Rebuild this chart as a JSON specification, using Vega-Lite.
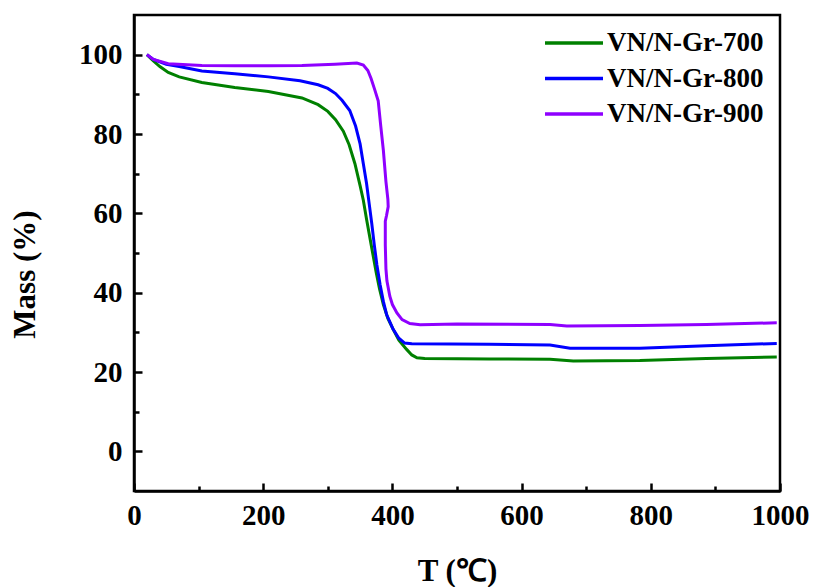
{
  "$schema": "https://vega.github.io/schema/vega-lite/v6.json",
  "width": 646,
  "height": 476,
  "autosize": {"type": "none"},
  "padding": {"left": 134, "top": 15, "right": 36, "bottom": 96},
  "background": "white",
  "config": {
    "font": "Liberation Serif",
    "view": {"stroke": "black", "strokeWidth": 2.5},
    "axis": {"grid": false, "domainColor": "black", "domainWidth": 2.5, "tickColor": "black", "tickWidth": 2.5, "tickSize": -8,
             "labelFont": "Liberation Serif", "labelFontWeight": "bold", "labelFontSize": 29, "labelColor": "black",
             "titleFont": "Liberation Serif", "titleFontWeight": "bold", "titleFontSize": 31, "titleColor": "black"}
  },
  "data": {"values": [
    {"s":"VN/N-Gr-700","i":1,"T":20,"M":100},
    {"s":"VN/N-Gr-700","i":2,"T":30,"M":98.4},
    {"s":"VN/N-Gr-700","i":3,"T":40,"M":97.0},
    {"s":"VN/N-Gr-700","i":4,"T":53,"M":95.5},
    {"s":"VN/N-Gr-700","i":5,"T":70,"M":94.4},
    {"s":"VN/N-Gr-700","i":6,"T":105,"M":93.0},
    {"s":"VN/N-Gr-700","i":7,"T":156,"M":91.7},
    {"s":"VN/N-Gr-700","i":8,"T":208,"M":90.7},
    {"s":"VN/N-Gr-700","i":9,"T":260,"M":89.1},
    {"s":"VN/N-Gr-700","i":10,"T":285,"M":87.4},
    {"s":"VN/N-Gr-700","i":11,"T":300,"M":85.7},
    {"s":"VN/N-Gr-700","i":12,"T":312,"M":83.6},
    {"s":"VN/N-Gr-700","i":13,"T":324,"M":80.7},
    {"s":"VN/N-Gr-700","i":14,"T":333,"M":77.3},
    {"s":"VN/N-Gr-700","i":15,"T":342,"M":72.5},
    {"s":"VN/N-Gr-700","i":16,"T":350,"M":67.0},
    {"s":"VN/N-Gr-700","i":17,"T":355,"M":63.3},
    {"s":"VN/N-Gr-700","i":18,"T":360,"M":58.5},
    {"s":"VN/N-Gr-700","i":19,"T":365,"M":54.0},
    {"s":"VN/N-Gr-700","i":20,"T":370,"M":49.5},
    {"s":"VN/N-Gr-700","i":21,"T":375,"M":45.0},
    {"s":"VN/N-Gr-700","i":22,"T":380,"M":41.0},
    {"s":"VN/N-Gr-700","i":23,"T":386,"M":37.0},
    {"s":"VN/N-Gr-700","i":24,"T":393,"M":33.5},
    {"s":"VN/N-Gr-700","i":25,"T":401,"M":30.8},
    {"s":"VN/N-Gr-700","i":26,"T":410,"M":28.0},
    {"s":"VN/N-Gr-700","i":27,"T":422,"M":25.7},
    {"s":"VN/N-Gr-700","i":28,"T":430,"M":24.3},
    {"s":"VN/N-Gr-700","i":29,"T":438,"M":23.6},
    {"s":"VN/N-Gr-700","i":30,"T":450,"M":23.4},
    {"s":"VN/N-Gr-700","i":31,"T":550,"M":23.3},
    {"s":"VN/N-Gr-700","i":32,"T":644,"M":23.2},
    {"s":"VN/N-Gr-700","i":33,"T":680,"M":22.8},
    {"s":"VN/N-Gr-700","i":34,"T":783,"M":22.9},
    {"s":"VN/N-Gr-700","i":35,"T":886,"M":23.4},
    {"s":"VN/N-Gr-700","i":36,"T":995,"M":23.8},

    {"s":"VN/N-Gr-800","i":1,"T":20,"M":100},
    {"s":"VN/N-Gr-800","i":2,"T":30,"M":98.8},
    {"s":"VN/N-Gr-800","i":3,"T":50,"M":97.6},
    {"s":"VN/N-Gr-800","i":4,"T":70,"M":97.0},
    {"s":"VN/N-Gr-800","i":5,"T":105,"M":95.9},
    {"s":"VN/N-Gr-800","i":6,"T":156,"M":95.2},
    {"s":"VN/N-Gr-800","i":7,"T":208,"M":94.4},
    {"s":"VN/N-Gr-800","i":8,"T":257,"M":93.4},
    {"s":"VN/N-Gr-800","i":9,"T":285,"M":92.4},
    {"s":"VN/N-Gr-800","i":10,"T":300,"M":91.5},
    {"s":"VN/N-Gr-800","i":11,"T":312,"M":90.2},
    {"s":"VN/N-Gr-800","i":12,"T":322,"M":88.5},
    {"s":"VN/N-Gr-800","i":13,"T":334,"M":85.9},
    {"s":"VN/N-Gr-800","i":14,"T":343,"M":82.0},
    {"s":"VN/N-Gr-800","i":15,"T":350,"M":77.5},
    {"s":"VN/N-Gr-800","i":16,"T":355,"M":72.5},
    {"s":"VN/N-Gr-800","i":17,"T":360,"M":67.5},
    {"s":"VN/N-Gr-800","i":18,"T":364,"M":62.5},
    {"s":"VN/N-Gr-800","i":19,"T":368,"M":57.5},
    {"s":"VN/N-Gr-800","i":20,"T":372,"M":52.0},
    {"s":"VN/N-Gr-800","i":21,"T":376,"M":47.0},
    {"s":"VN/N-Gr-800","i":22,"T":381,"M":42.0},
    {"s":"VN/N-Gr-800","i":23,"T":386,"M":37.8},
    {"s":"VN/N-Gr-800","i":24,"T":391,"M":34.5},
    {"s":"VN/N-Gr-800","i":25,"T":401,"M":30.8},
    {"s":"VN/N-Gr-800","i":26,"T":410,"M":28.5},
    {"s":"VN/N-Gr-800","i":27,"T":419,"M":27.3},
    {"s":"VN/N-Gr-800","i":28,"T":430,"M":27.1},
    {"s":"VN/N-Gr-800","i":29,"T":550,"M":27.0},
    {"s":"VN/N-Gr-800","i":30,"T":644,"M":26.8},
    {"s":"VN/N-Gr-800","i":31,"T":675,"M":26.0},
    {"s":"VN/N-Gr-800","i":32,"T":783,"M":26.0},
    {"s":"VN/N-Gr-800","i":33,"T":886,"M":26.6},
    {"s":"VN/N-Gr-800","i":34,"T":995,"M":27.2},

    {"s":"VN/N-Gr-900","i":1,"T":20,"M":100},
    {"s":"VN/N-Gr-900","i":2,"T":30,"M":98.8},
    {"s":"VN/N-Gr-900","i":3,"T":53,"M":97.7},
    {"s":"VN/N-Gr-900","i":4,"T":105,"M":97.3},
    {"s":"VN/N-Gr-900","i":5,"T":156,"M":97.2},
    {"s":"VN/N-Gr-900","i":6,"T":208,"M":97.2},
    {"s":"VN/N-Gr-900","i":7,"T":260,"M":97.3},
    {"s":"VN/N-Gr-900","i":8,"T":311,"M":97.6},
    {"s":"VN/N-Gr-900","i":9,"T":345,"M":97.9},
    {"s":"VN/N-Gr-900","i":10,"T":355,"M":97.4},
    {"s":"VN/N-Gr-900","i":11,"T":362,"M":96.0},
    {"s":"VN/N-Gr-900","i":12,"T":367,"M":94.0},
    {"s":"VN/N-Gr-900","i":13,"T":372,"M":91.5},
    {"s":"VN/N-Gr-900","i":14,"T":378,"M":88.4},
    {"s":"VN/N-Gr-900","i":15,"T":382,"M":82.0},
    {"s":"VN/N-Gr-900","i":16,"T":386,"M":75.9},
    {"s":"VN/N-Gr-900","i":17,"T":390,"M":68.0},
    {"s":"VN/N-Gr-900","i":18,"T":393,"M":63.5},
    {"s":"VN/N-Gr-900","i":19,"T":393.5,"M":61.7},
    {"s":"VN/N-Gr-900","i":20,"T":391,"M":59.5},
    {"s":"VN/N-Gr-900","i":21,"T":389,"M":58.0},
    {"s":"VN/N-Gr-900","i":22,"T":389,"M":52.0},
    {"s":"VN/N-Gr-900","i":23,"T":390,"M":46.0},
    {"s":"VN/N-Gr-900","i":24,"T":391.5,"M":43.0},
    {"s":"VN/N-Gr-900","i":25,"T":396,"M":39.1},
    {"s":"VN/N-Gr-900","i":26,"T":400,"M":37.0},
    {"s":"VN/N-Gr-900","i":27,"T":407,"M":34.9},
    {"s":"VN/N-Gr-900","i":28,"T":415,"M":33.2},
    {"s":"VN/N-Gr-900","i":29,"T":427,"M":32.2},
    {"s":"VN/N-Gr-900","i":30,"T":443,"M":31.9},
    {"s":"VN/N-Gr-900","i":31,"T":500,"M":32.1},
    {"s":"VN/N-Gr-900","i":32,"T":644,"M":32.0},
    {"s":"VN/N-Gr-900","i":33,"T":670,"M":31.6},
    {"s":"VN/N-Gr-900","i":34,"T":783,"M":31.7},
    {"s":"VN/N-Gr-900","i":35,"T":886,"M":32.0},
    {"s":"VN/N-Gr-900","i":36,"T":995,"M":32.4}
  ]},
  "mark": {"type": "line", "strokeWidth": 3, "interpolate": "linear"},
  "encoding": {
    "x": {"field": "T", "type": "quantitative",
          "scale": {"domain": [0, 1000], "nice": false, "zero": false},
          "axis": {"title": "T (℃)", "values": [0,100,200,300,400,500,600,700,800,900,1000], "format": "d",
                   "labelExpr": "datum.value % 200 === 0 ? datum.label : ''",
                   "tickSize": {"condition": {"test": "datum.value % 200 === 0", "value": -8}, "value": -5},
                   "labelPadding": 18, "labelFlush": false, "labelOverlap": false,
                   "titleY": 80, "titleBaseline": "middle"}},
    "y": {"field": "M", "type": "quantitative",
          "scale": {"domain": [-10, 110], "nice": false, "zero": false},
          "axis": {"title": "Mass (%)", "values": [0,10,20,30,40,50,60,70,80,90,100],
                   "labelExpr": "datum.value % 20 === 0 ? datum.label : ''",
                   "tickSize": {"condition": {"test": "datum.value % 20 === 0", "value": -8}, "value": -5},
                   "labelPadding": 20, "labelOverlap": false,
                   "titleX": -109, "titleY": 259, "titleBaseline": "middle", "titleAlign": "center", "titleAngle": -90}},
    "color": {"field": "s", "type": "nominal",
              "scale": {"domain": ["VN/N-Gr-700","VN/N-Gr-800","VN/N-Gr-900"], "range": ["#008000","#0000ff","#8f00ff"]},
              "legend": {"title": null, "orient": "none", "legendX": 409, "legendY": 11,
                         "symbolType": "stroke", "symbolSize": 3364, "symbolStrokeWidth": 3.5,
                         "labelFont": "Liberation Serif", "labelFontWeight": "bold", "labelFontSize": 27, "labelColor": "black",
                         "labelOffset": 2, "clipHeight": 34, "rowPadding": 1.5, "labelLimit": 300}},
    "order": {"field": "i", "type": "quantitative"}
  }
}
